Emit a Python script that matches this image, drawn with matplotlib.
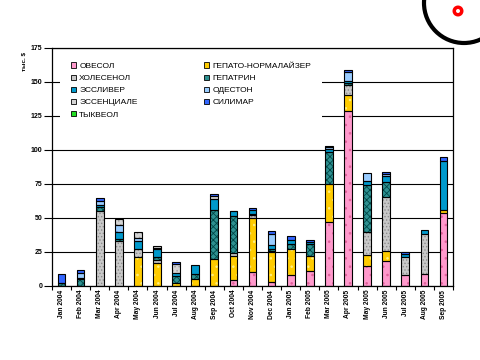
import matplotlib
matplotlib.use("Agg")
import matplotlib.pyplot as plt
import numpy as np
from matplotlib.patches import Patch, Circle

months = ["Jan 2004", "Feb 2004", "Mar 2004", "Apr 2004", "May 2004", "Jun 2004",
          "Jul 2004", "Aug 2004", "Sep 2004", "Oct 2004", "Nov 2004", "Dec 2004",
          "Jan 2005", "Feb 2005", "Mar 2005", "Apr 2005", "May 2005", "Jun 2005",
          "Jul 2005", "Aug 2005", "Sep 2005"]

# stacking order, bottom to top (thousand $)
ovesol = [0, 0, 0, 0, 0, 0, 0, 0, 0, 4, 10, 2.5, 7.6, 10.6, 47.2, 128.6, 14.3, 18, 7.7, 8.4, 53.4]
gepato = [0, 0, 0, 0, 21.4, 16.5, 2.2, 4.7, 19.5, 17.8, 39.5, 22, 19.7, 11.1, 27.6, 11.8, 8.1, 7.8, 0, 0, 2.2]
holesenol = [0, 0, 55.3, 33.2, 5.4, 2.5, 0, 0, 0, 2, 2.3, 1, 0, 0, 0, 7.4, 17.4, 39.8, 13.7, 29.5, 0]
gepatrin = [1.8, 4.7, 3, 1.5, 0, 2, 4.7, 4, 36, 27.5, 1, 1.4, 3.5, 8.8, 23.3, 1.5, 34.7, 10.4, 0, 0, 0]
essliver = [0, 1.2, 1.2, 5, 6.2, 6, 2.2, 6.4, 8.4, 3.5, 3.2, 3, 2.9, 2, 2.5, 1.7, 2.9, 4.4, 2.2, 2.9, 36.1]
odeston = [0, 3.2, 3, 5, 2, 0.5, 0, 0, 0, 0, 0, 8, 0, 0, 1.2, 6.6, 5.5, 2.2, 0, 0, 0]
essentiale = [0, 0, 0, 4.5, 4.5, 1.5, 7.2, 0, 2.4, 0, 0, 0, 0, 0, 0, 0, 0, 0, 0, 0, 0]
silimar = [6.5, 2.2, 1.8, 0, 0, 0, 1, 0, 1, 0.5, 1, 2.4, 2.7, 1, 1.2, 1.4, 0, 1, 1.3, 0, 3]
tykveol = [0] * 21

layers = [
    ("ОВЕСОЛ", ovesol, "#FF99CC", "#E0609A", ".."),
    ("ГЕПАТО-НОРМАЛАЙЗЕР", gepato, "#FFCC00", "#FFF080", ".."),
    ("ХОЛЕСЕНОЛ", holesenol, "#C8C8C8", "#8C8C8C", "....."),
    ("ГЕПАТРИН", gepatrin, "#2E9090", "#004848", "xxxxx"),
    ("ЭССЛИВЕР", essliver, "#0099CC", "#0099CC", ""),
    ("ОДЕСТОН", odeston, "#99CCFF", "#5599DD", "."),
    ("ЭССЕНЦИАЛЕ", essentiale, "#D4D4D4", "#A0A0A0", "...."),
    ("СИЛИМАР", silimar, "#3366FF", "#3366FF", ""),
    ("ТЫКВЕОЛ", tykveol, "#22DD22", "#22DD22", ""),
]

plt.rcParams['font.family'] = ['Liberation Sans', 'DejaVu Sans']
plt.rcParams['hatch.linewidth'] = 0.6

fig = plt.figure(figsize=(4.8, 3.6), dpi=100)
ax = fig.add_axes([52 / 480, 1 - 285.7 / 360, 401 / 480, 237.7 / 360])

x = np.arange(len(months))
bottom = np.zeros(len(months))
handles = []
for name, vals, face, hcol, hatch in layers:
    v = np.array(vals, dtype=float)
    m = v > 0
    if m.any():
        ax.bar(x[m], v[m], 0.4, bottom=bottom[m], color=face, edgecolor=hcol,
               hatch=hatch, linewidth=0, zorder=2)
        ax.bar(x[m], v[m], 0.4, bottom=bottom[m], facecolor="none",
               edgecolor="black", linewidth=0.8, zorder=3)
    bottom += v
    handles.append(Patch(facecolor=face, edgecolor="black", linewidth=0.6))

ax.set_xlim(-0.5, len(months) - 0.5)
ax.set_ylim(0, 175)
ax.set_yticks(np.arange(0, 176, 25))
ax.yaxis.grid(True, color="black", linewidth=0.8)
ax.set_axisbelow(True)
for s in ax.spines.values():
    s.set_linewidth(0.9)

ax.set_xticks(x)
ax.set_xticklabels(months, rotation=90, fontsize=4.8, fontweight="bold", va="top")
ax.set_xticks(np.arange(-0.5, len(months), 1), minor=True)
ax.tick_params(axis="x", which="major", length=0, pad=3)
ax.tick_params(axis="x", which="minor", length=3, width=0.8, direction="out")
ax.tick_params(axis="y", length=6, width=0.8, pad=0.8, labelsize=5)
for t in ax.get_yticklabels():
    t.set_fontweight("bold")

fig.text(24 / 480, 1 - 52 / 360, "тыс. $", rotation=90, fontsize=4.5,
         fontweight="bold", ha="center", va="top")

order = [0, 2, 4, 6, 8, 1, 3, 5, 7]
leg = ax.legend([handles[i] for i in order], [layers[i][0] for i in order],
                loc="upper left", bbox_to_anchor=(0.02, 0.985), ncol=2,
                fontsize=6, frameon=True, fancybox=False, framealpha=1,
                edgecolor="white", borderaxespad=0, borderpad=1.3,
                handlelength=0.6, handleheight=0.6, handletextpad=0.4,
                labelspacing=0.55, columnspacing=8)
leg.get_frame().set_linewidth(0)

# decorative circle in the top-right corner
fig.add_artist(Circle((4.64, 3.57), 0.40, transform=fig.dpi_scale_trans,
                      facecolor="none", edgecolor="black", linewidth=3))
fig.add_artist(Circle((4.58, 3.49), 0.0375, transform=fig.dpi_scale_trans,
                      facecolor="none", edgecolor="red", linewidth=2.5))

fig.savefig("out.png", dpi=100)
